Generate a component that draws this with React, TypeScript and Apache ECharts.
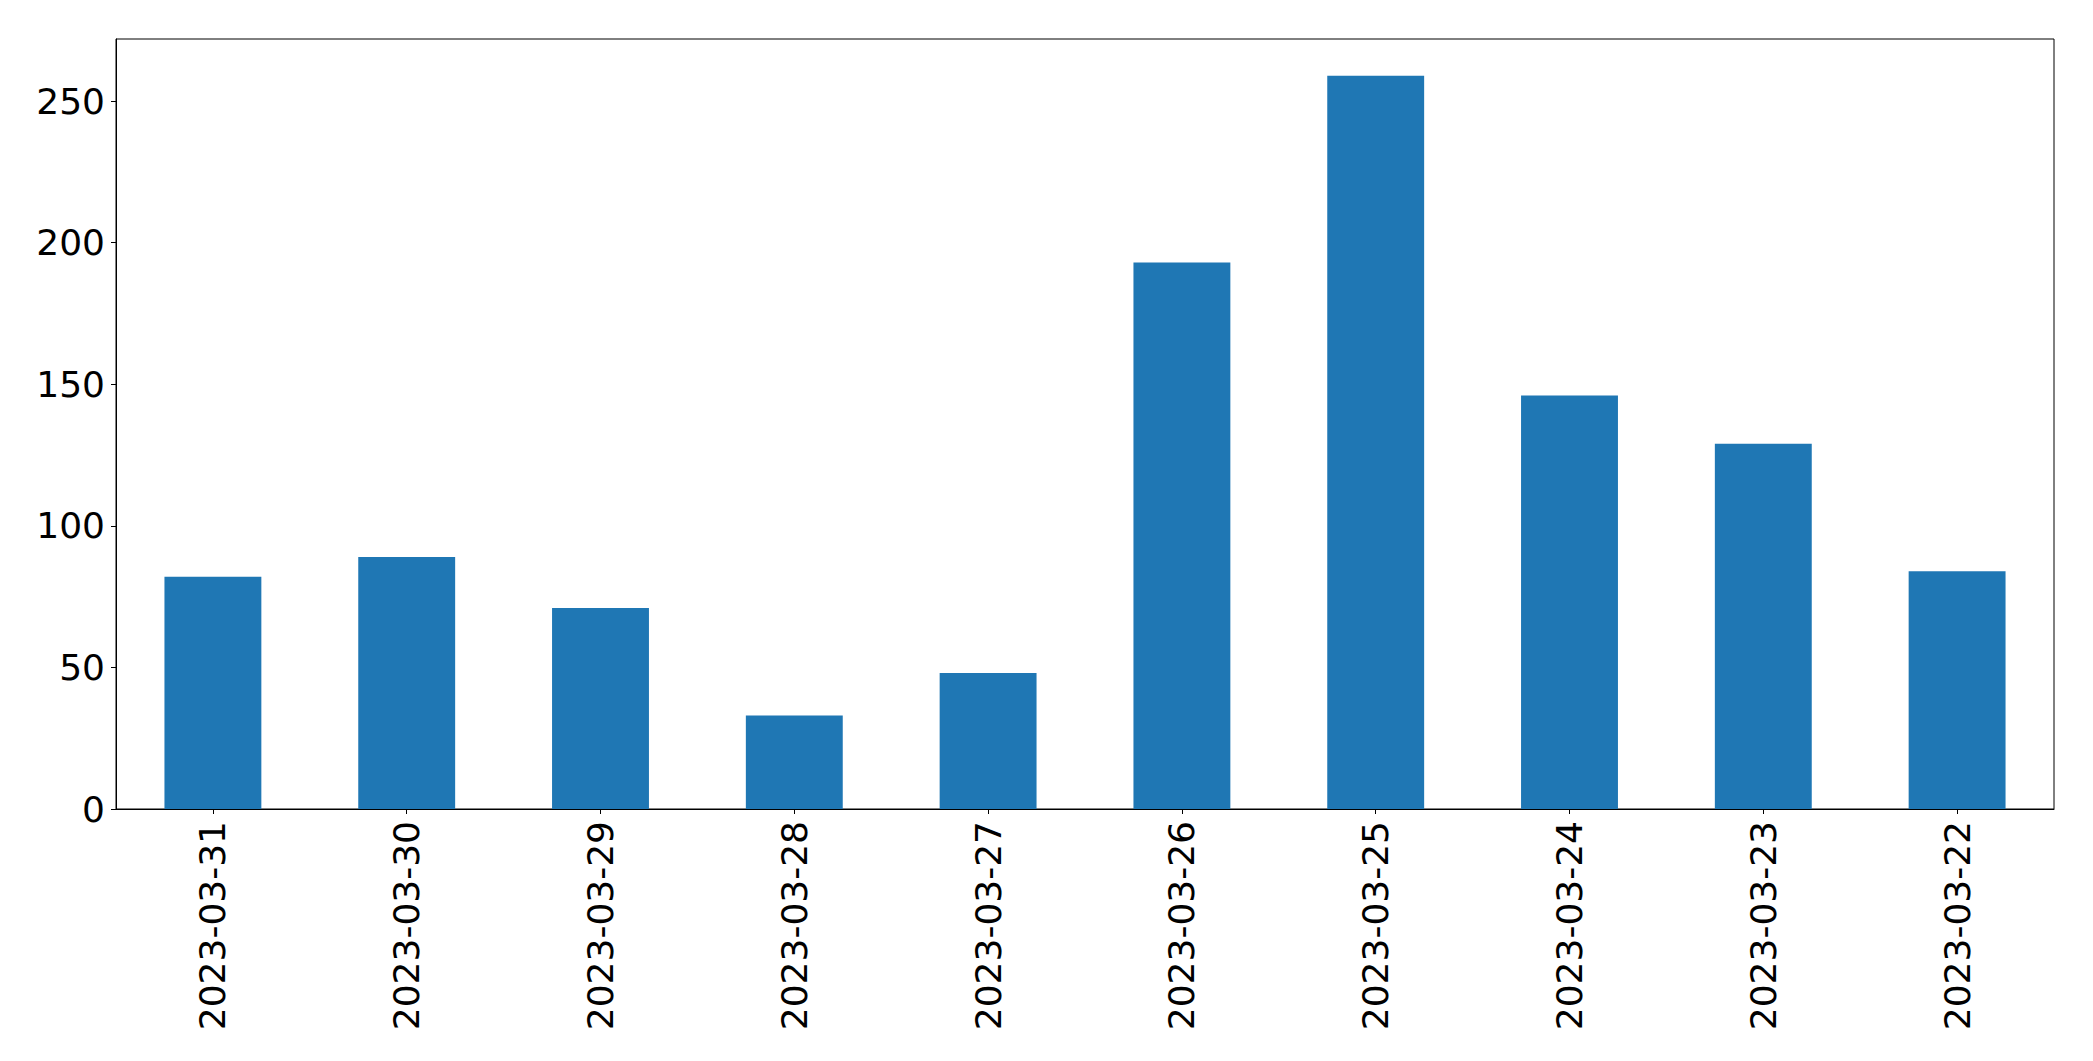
import React, { useEffect, useRef } from "react";
import * as echarts from "echarts";

const categories = [
  "2023-03-31",
  "2023-03-30",
  "2023-03-29",
  "2023-03-28",
  "2023-03-27",
  "2023-03-26",
  "2023-03-25",
  "2023-03-24",
  "2023-03-23",
  "2023-03-22",
];
const values = [82, 89, 71, 33, 48, 193, 259, 146, 129, 84];
const yTicks = [0, 50, 100, 150, 200, 250];

export default function App() {
  const ref = useRef<HTMLDivElement>(null);
  useEffect(() => {
    if (!ref.current) return;
    const chart = echarts.init(ref.current, undefined, { renderer: "svg" });
    const maxV = Math.max(...values) * 1.05;
    chart.setOption({
      animation: false,
      backgroundColor: "#ffffff",
      textStyle: { fontFamily: "DejaVu Sans" },
      grid: {
        left: 116,
        right: 39,
        top: 39,
        bottom: 252,
        show: true,
        borderColor: "#000000",
        borderWidth: 1,
        containLabel: false,
      },
      xAxis: {
        type: "category",
        data: categories,
        boundaryGap: true,
        axisLine: { show: true, lineStyle: { color: "#000000", width: 1 } },
        axisTick: { show: true, alignWithLabel: true, length: 5, lineStyle: { color: "#000000", width: 1 } },
        axisLabel: {
          rotate: 90,
          interval: 0,
          margin: 12,
          fontSize: 36,
          color: "#000000",
          fontFamily: "DejaVu Sans",
        },
        splitLine: { show: false },
      },
      yAxis: {
        type: "value",
        min: 0,
        max: maxV,
        interval: 50,
        axisLine: { show: true, lineStyle: { color: "#000000", width: 1 } },
        axisTick: { show: true, length: 5, customValues: yTicks, lineStyle: { color: "#000000", width: 1 } },
        axisLabel: {
          margin: 11,
          fontSize: 36,
          color: "#000000",
          fontFamily: "DejaVu Sans",
          customValues: yTicks,
        },
        splitLine: { show: false },
      },
      series: [
        {
          type: "bar",
          data: values,
          barWidth: "50%",
          itemStyle: { color: "#1f77b4" },
        },
      ],
    });
    return () => chart.dispose();
  }, []);
  return (
    <div
      ref={ref}
      style={{ position: "fixed", left: 0, top: 0, width: 2093, height: 1061, background: "#fff" }}
    />
  );
}
